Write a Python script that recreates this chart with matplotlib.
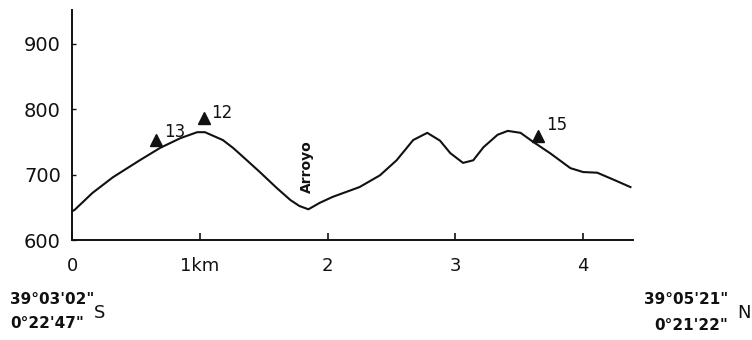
import matplotlib
matplotlib.use("Agg")
import matplotlib.pyplot as plt

dist_km = [0.0, 0.02, 0.16, 0.32, 0.53, 0.69, 0.85, 0.98, 1.04, 1.18, 1.26, 1.34, 1.47,
           1.60, 1.71, 1.78, 1.85, 1.94, 2.04, 2.25, 2.41, 2.54, 2.67, 2.78, 2.88, 2.96,
           3.06, 3.14, 3.22, 3.33, 3.41, 3.51, 3.61, 3.74, 3.90, 4.00, 4.11, 4.23, 4.37]
elev_m = [644, 646, 672, 696, 722, 741, 756, 765, 765, 753, 741, 727, 704,
          680, 661, 652, 647, 657, 666, 681, 699, 722, 753, 764, 752, 733,
          718, 722, 742, 761, 767, 764, 750, 733, 710, 704, 703, 693, 681]

site_x = [0.66, 1.03, 3.65]
site_y = [753, 787, 759]
site_labels = ["13", "12", "15"]
label_dy = [12, 8, 17]

xticks = [0, 1, 2, 3, 4]
xtick_labels = ["0", "1km", "2", "3", "4"]
yticks = [600, 700, 800, 900]

fig = plt.figure(figsize=(7.52, 3.4), dpi=100)
ax = fig.add_axes([72/752, 100/340, (633-72)/752, 230/340])
ax.plot(dist_km, elev_m, color="#111111", lw=1.5, solid_joinstyle="round")
ax.plot(site_x, site_y, linestyle="none", marker="^", color="#111111", markersize=9)
for x, y, s, dy in zip(site_x, site_y, site_labels, label_dy):
    ax.text(x + 0.06, y + dy, s, fontsize=12, ha="left", va="center", color="#111111")

ax.text(1.84, 713, "Arroyo", rotation=90, fontsize=10, ha="center", va="center",
        color="#111111", fontweight="bold")

ax.set_xlim(0, 4.39)
ax.set_ylim(600, 952)
ax.spines["top"].set_visible(False)
ax.spines["right"].set_visible(False)
for sp in ("left", "bottom"):
    ax.spines[sp].set_linewidth(1.4)
    ax.spines[sp].set_color("#111111")
ax.set_xticks(xticks)
ax.set_xticklabels(xtick_labels, fontsize=13)
ax.set_yticks(yticks)
ax.set_yticklabels([str(v) for v in yticks], fontsize=14)
ax.tick_params(axis="x", direction="in", length=5, width=1.2, pad=12, colors="#111111")
ax.tick_params(axis="y", direction="in", length=3, width=1.0, pad=8, colors="#111111")

fig.text(10/752, 1 - 300/340, "39°03'02\"", fontsize=11, fontweight="bold", ha="left", va="center", color="#111111")
fig.text(10/752, 1 - 323/340, "0°22'47\"", fontsize=11, fontweight="bold", ha="left", va="center", color="#111111")
fig.text(100/752, 1 - 313/340, "S", fontsize=13, ha="center", va="center", color="#111111")
fig.text(728/752, 1 - 300/340, "39°05'21\"", fontsize=11, fontweight="bold", ha="right", va="center", color="#111111")
fig.text(728/752, 1 - 325/340, "0°21'22\"", fontsize=11, fontweight="bold", ha="right", va="center", color="#111111")
fig.text(744/752, 1 - 313/340, "N", fontsize=13, ha="center", va="center", color="#111111")

fig.savefig("out.png", dpi=100)
